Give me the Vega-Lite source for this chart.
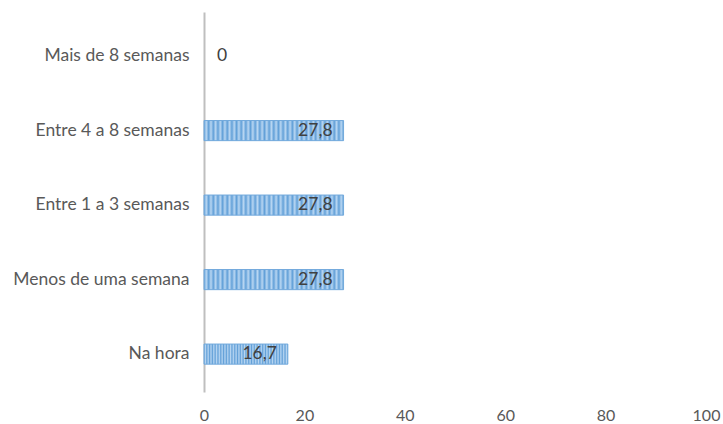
{
  "$schema": "https://vega.github.io/schema/vega-lite/v6.json",
  "width": 502,
  "height": 380,
  "autosize": {"type": "none"},
  "padding": {"left": 204, "top": 12, "right": 17, "bottom": 32},
  "background": "white",
  "config": {
    "view": {"stroke": null},
    "locale": {"number": {"decimal": ",", "thousands": ".", "grouping": [3], "currency": ["", "€"]}},
    "font": "Lato"
  },
  "data": {
    "values": [
      {"categoria": "Mais de 8 semanas", "valor": 0},
      {"categoria": "Entre 4 a 8 semanas", "valor": 27.8},
      {"categoria": "Entre 1 a 3 semanas", "valor": 27.8},
      {"categoria": "Menos de uma semana", "valor": 27.8},
      {"categoria": "Na hora", "valor": 16.7}
    ]
  },
  "encoding": {
    "y": {
      "field": "categoria",
      "type": "nominal",
      "sort": ["Mais de 8 semanas", "Entre 4 a 8 semanas", "Entre 1 a 3 semanas", "Menos de uma semana", "Na hora"],
      "scale": {"paddingInner": 0.73, "paddingOuter": 0.415, "align": 0.55},
      "axis": {
        "title": null,
        "ticks": false,
        "domainColor": "#bfbfbf",
        "domainWidth": 2,
        "labelColor": "#595959",
        "labelFontSize": 17.5,
        "labelPadding": 15,
        "labelFont": "Lato"
      }
    },
    "x": {
      "field": "valor",
      "type": "quantitative",
      "scale": {"domain": [0, 100], "nice": false},
      "axis": {
        "title": null,
        "values": [0, 20, 40, 60, 80, 100],
        "grid": false,
        "domain": false,
        "ticks": false,
        "labelFlush": false,
        "labelColor": "#595959",
        "labelFontSize": 16,
        "labelPadding": 15,
        "labelFont": "Lato"
      }
    }
  },
  "layer": [
    {
      "transform": [{"filter": "datum.valor > 0"}],
      "mark": {
        "type": "bar",
        "stroke": "#72a9dc",
        "strokeWidth": 1,
        "fill": {
          "gradient": "linear", "x1": 0, "x2": 1, "y1": 0, "y2": 0,
          "stops": [
            {"offset": 0, "color": "#62a0d8"}, {"offset": 0.0167, "color": "#b8d6f2"},
            {"offset": 0.0333, "color": "#62a0d8"}, {"offset": 0.05, "color": "#b8d6f2"},
            {"offset": 0.0667, "color": "#62a0d8"}, {"offset": 0.0833, "color": "#b8d6f2"},
            {"offset": 0.1, "color": "#62a0d8"}, {"offset": 0.1167, "color": "#b8d6f2"},
            {"offset": 0.1333, "color": "#62a0d8"}, {"offset": 0.15, "color": "#b8d6f2"},
            {"offset": 0.1667, "color": "#62a0d8"}, {"offset": 0.1833, "color": "#b8d6f2"},
            {"offset": 0.2, "color": "#62a0d8"}, {"offset": 0.2167, "color": "#b8d6f2"},
            {"offset": 0.2333, "color": "#62a0d8"}, {"offset": 0.25, "color": "#b8d6f2"},
            {"offset": 0.2667, "color": "#62a0d8"}, {"offset": 0.2833, "color": "#b8d6f2"},
            {"offset": 0.3, "color": "#62a0d8"}, {"offset": 0.3167, "color": "#b8d6f2"},
            {"offset": 0.3333, "color": "#62a0d8"}, {"offset": 0.35, "color": "#b8d6f2"},
            {"offset": 0.3667, "color": "#62a0d8"}, {"offset": 0.3833, "color": "#b8d6f2"},
            {"offset": 0.4, "color": "#62a0d8"}, {"offset": 0.4167, "color": "#b8d6f2"},
            {"offset": 0.4333, "color": "#62a0d8"}, {"offset": 0.45, "color": "#b8d6f2"},
            {"offset": 0.4667, "color": "#62a0d8"}, {"offset": 0.4833, "color": "#b8d6f2"},
            {"offset": 0.5, "color": "#62a0d8"}, {"offset": 0.5167, "color": "#b8d6f2"},
            {"offset": 0.5333, "color": "#62a0d8"}, {"offset": 0.55, "color": "#b8d6f2"},
            {"offset": 0.5667, "color": "#62a0d8"}, {"offset": 0.5833, "color": "#b8d6f2"},
            {"offset": 0.6, "color": "#62a0d8"}, {"offset": 0.6167, "color": "#b8d6f2"},
            {"offset": 0.6333, "color": "#62a0d8"}, {"offset": 0.65, "color": "#b8d6f2"},
            {"offset": 0.6667, "color": "#62a0d8"}, {"offset": 0.6833, "color": "#b8d6f2"},
            {"offset": 0.7, "color": "#62a0d8"}, {"offset": 0.7167, "color": "#b8d6f2"},
            {"offset": 0.7333, "color": "#62a0d8"}, {"offset": 0.75, "color": "#b8d6f2"},
            {"offset": 0.7667, "color": "#62a0d8"}, {"offset": 0.7833, "color": "#b8d6f2"},
            {"offset": 0.8, "color": "#62a0d8"}, {"offset": 0.8167, "color": "#b8d6f2"},
            {"offset": 0.8333, "color": "#62a0d8"}, {"offset": 0.85, "color": "#b8d6f2"},
            {"offset": 0.8667, "color": "#62a0d8"}, {"offset": 0.8833, "color": "#b8d6f2"},
            {"offset": 0.9, "color": "#62a0d8"}, {"offset": 0.9167, "color": "#b8d6f2"},
            {"offset": 0.9333, "color": "#62a0d8"}, {"offset": 0.95, "color": "#b8d6f2"},
            {"offset": 0.9667, "color": "#62a0d8"}, {"offset": 0.9833, "color": "#b8d6f2"},
            {"offset": 1, "color": "#62a0d8"}
          ]
        }
      }
    },
    {
      "transform": [{"filter": "datum.valor > 0"}],
      "mark": {"type": "text", "align": "right", "dx": -11, "fontSize": 17.5, "color": "#404040"},
      "encoding": {"text": {"field": "valor", "type": "quantitative", "format": ".1~f"}}
    },
    {
      "transform": [{"filter": "datum.valor == 0"}],
      "mark": {"type": "text", "align": "left", "dx": 13, "fontSize": 17.5, "color": "#404040"},
      "encoding": {"text": {"field": "valor", "type": "quantitative", "format": ".1~f"}}
    }
  ]
}
